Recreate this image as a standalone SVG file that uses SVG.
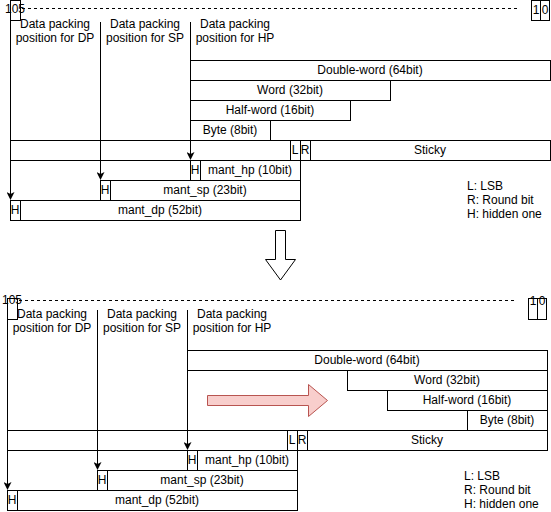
<svg xmlns="http://www.w3.org/2000/svg" width="551" height="512" viewBox="0 0 551 512">
<style>
.b{fill:#fff;stroke:#000;stroke-width:1}
.t{font-family:"Liberation Sans",Arial,sans-serif;font-size:12px;fill:#000;text-anchor:middle}
.l{font-family:"Liberation Sans",Arial,sans-serif;font-size:12px;fill:#000;text-anchor:start}
.c{fill:none;stroke:#000;stroke-width:1}
.d{fill:none;stroke:#000;stroke-width:1;stroke-dasharray:3 3}
</style>
<defs>
<marker id="ah" markerUnits="userSpaceOnUse" markerWidth="8" markerHeight="8" viewBox="0 0 8 8" refX="4" refY="4" orient="auto">
<path d="M0,0 L8,4 L0,8 L2,4 Z" fill="#000"/>
</marker>
</defs>
<rect width="551" height="512" fill="#fff"/>

<!-- TOP SECTION -->
<g id="top-scale">
<rect class="b" x="10.5" y="0.5" width="10" height="20"/>
<text class="t" x="15" y="13">105</text>
<line class="d" x1="22" y1="8.5" x2="519" y2="8.5"/>
<rect class="b" x="531.5" y="0.5" width="9" height="20"/>
<text class="t" x="536" y="14">1</text>
<rect class="b" x="540.5" y="0.5" width="9" height="20"/>
<text class="t" x="545" y="14">0</text>
</g>
<g id="top-labels">
<text class="t" x="55" y="28">Data packing</text>
<text class="t" x="55" y="42">position for DP</text>
<text class="t" x="145" y="28">Data packing</text>
<text class="t" x="145" y="42">position for SP</text>
<text class="t" x="235" y="28">Data packing</text>
<text class="t" x="235" y="42">position for HP</text>
</g>
<g id="top-double"><rect class="b" x="190.5" y="60.5" width="360" height="20"/><text class="t" x="370" y="74">Double-word (64bit)</text></g>
<g id="top-word"><rect class="b" x="190.5" y="80.5" width="200" height="20"/><text class="t" x="290" y="94">Word (32bit)</text></g>
<g id="top-half"><rect class="b" x="190.5" y="100.5" width="160" height="20"/><text class="t" x="270" y="114">Half-word (16bit)</text></g>
<g id="top-byte"><rect class="b" x="190.5" y="120.5" width="80" height="20"/><text class="t" x="230" y="134">Byte (8bit)</text></g>
<g id="top-row"><rect class="b" x="10.5" y="140.5" width="280" height="20"/></g>
<g id="top-L"><rect class="b" x="290.5" y="140.5" width="10" height="20"/><text class="t" x="295" y="154">L</text></g>
<g id="top-R"><rect class="b" x="300.5" y="140.5" width="10" height="20"/><text class="t" x="305" y="154">R</text></g>
<g id="top-sticky"><rect class="b" x="310.5" y="140.5" width="240" height="20"/><text class="t" x="430" y="154">Sticky</text></g>
<g id="top-hp"><rect class="b" x="190.5" y="160.5" width="10" height="20"/><text class="t" x="195" y="174">H</text><rect class="b" x="200.5" y="160.5" width="100" height="20"/><text class="t" x="250" y="174">mant_hp (10bit)</text></g>
<g id="top-sp"><rect class="b" x="100.5" y="180.5" width="10" height="20"/><text class="t" x="105" y="194">H</text><rect class="b" x="110.5" y="180.5" width="190" height="20"/><text class="t" x="205" y="194">mant_sp (23bit)</text></g>
<g id="top-dp"><rect class="b" x="10.5" y="200.5" width="10" height="20"/><text class="t" x="15" y="214">H</text><rect class="b" x="20.5" y="200.5" width="280" height="20"/><text class="t" x="160" y="214">mant_dp (52bit)</text></g>
<g id="top-legend">
<text class="l" x="467" y="190">L: LSB</text>
<text class="l" x="467" y="204">R: Round bit</text>
<text class="l" x="467" y="218">H: hidden one</text>
</g>

<!-- BIG ARROW -->
<g id="down-arrow">
<polygon points="275.5,230.5 285.5,230.5 285.5,259.5 295.5,259.5 280.5,280 265.5,259.5 275.5,259.5" fill="#fff" stroke="#000" stroke-width="1"/>
</g>

<!-- BOTTOM SECTION -->
<g id="bot-scale">
<rect class="b" x="7.5" y="298.5" width="10" height="21"/>
<text class="t" x="12" y="304">105</text>
<line class="d" x1="19" y1="300.5" x2="516" y2="300.5"/>
<rect class="b" x="528.5" y="298.5" width="9" height="21"/>
<text class="t" x="533" y="305">1</text>
<rect class="b" x="537.5" y="298.5" width="9" height="21"/>
<text class="t" x="542" y="305">0</text>
</g>
<g id="bot-labels">
<text class="t" x="52" y="318">Data packing</text>
<text class="t" x="52" y="332">position for DP</text>
<text class="t" x="142" y="318">Data packing</text>
<text class="t" x="142" y="332">position for SP</text>
<text class="t" x="232" y="318">Data packing</text>
<text class="t" x="232" y="332">position for HP</text>
</g>
<g id="bot-double"><rect class="b" x="187.5" y="350.5" width="360" height="20"/><text class="t" x="367" y="364">Double-word (64bit)</text></g>
<g id="bot-word"><rect class="b" x="347.5" y="370.5" width="200" height="20"/><text class="t" x="447" y="384">Word (32bit)</text></g>
<g id="bot-half"><rect class="b" x="387.5" y="390.5" width="160" height="20"/><text class="t" x="467" y="404">Half-word (16bit)</text></g>
<g id="bot-byte"><rect class="b" x="467.5" y="410.5" width="80" height="20"/><text class="t" x="507" y="424">Byte (8bit)</text></g>
<g id="bot-row"><rect class="b" x="7.5" y="430.5" width="280" height="20"/></g>
<g id="bot-L"><rect class="b" x="287.5" y="430.5" width="10" height="20"/><text class="t" x="292" y="444">L</text></g>
<g id="bot-R"><rect class="b" x="297.5" y="430.5" width="10" height="20"/><text class="t" x="302" y="444">R</text></g>
<g id="bot-sticky"><rect class="b" x="307.5" y="430.5" width="240" height="20"/><text class="t" x="427" y="444">Sticky</text></g>
<g id="bot-hp"><rect class="b" x="187.5" y="450.5" width="10" height="20"/><text class="t" x="192" y="464">H</text><rect class="b" x="197.5" y="450.5" width="100" height="20"/><text class="t" x="247" y="464">mant_hp (10bit)</text></g>
<g id="bot-sp"><rect class="b" x="97.5" y="470.5" width="10" height="20"/><text class="t" x="102" y="484">H</text><rect class="b" x="107.5" y="470.5" width="190" height="20"/><text class="t" x="202" y="484">mant_sp (23bit)</text></g>
<g id="bot-dp"><rect class="b" x="7.5" y="490.5" width="10" height="20"/><text class="t" x="12" y="504">H</text><rect class="b" x="17.5" y="490.5" width="280" height="20"/><text class="t" x="157" y="504">mant_dp (52bit)</text></g>
<g id="bot-legend">
<text class="l" x="464" y="480">L: LSB</text>
<text class="l" x="464" y="494">R: Round bit</text>
<text class="l" x="464" y="508">H: hidden one</text>
</g>
<g id="shift-arrow">
<polygon points="207.5,395.5 308.5,395.5 308.5,384.5 327.5,400.5 308.5,416.5 308.5,405.5 207.5,405.5" fill="#f8cecc" stroke="#b85450" stroke-width="1"/>
</g>

<!-- CONNECTORS -->
<g id="connectors">
<line class="c" x1="10.5" y1="20.5" x2="10.5" y2="196" marker-end="url(#ah)"/>
<line class="c" x1="100.5" y1="22" x2="100.5" y2="176" marker-end="url(#ah)"/>
<line class="c" x1="190.5" y1="22" x2="190.5" y2="156" marker-end="url(#ah)"/>
<line class="c" x1="7.5" y1="319.5" x2="7.5" y2="486" marker-end="url(#ah)"/>
<line class="c" x1="97.5" y1="310" x2="97.5" y2="466" marker-end="url(#ah)"/>
<line class="c" x1="187.5" y1="310" x2="187.5" y2="446" marker-end="url(#ah)"/>
</g>
</svg>
